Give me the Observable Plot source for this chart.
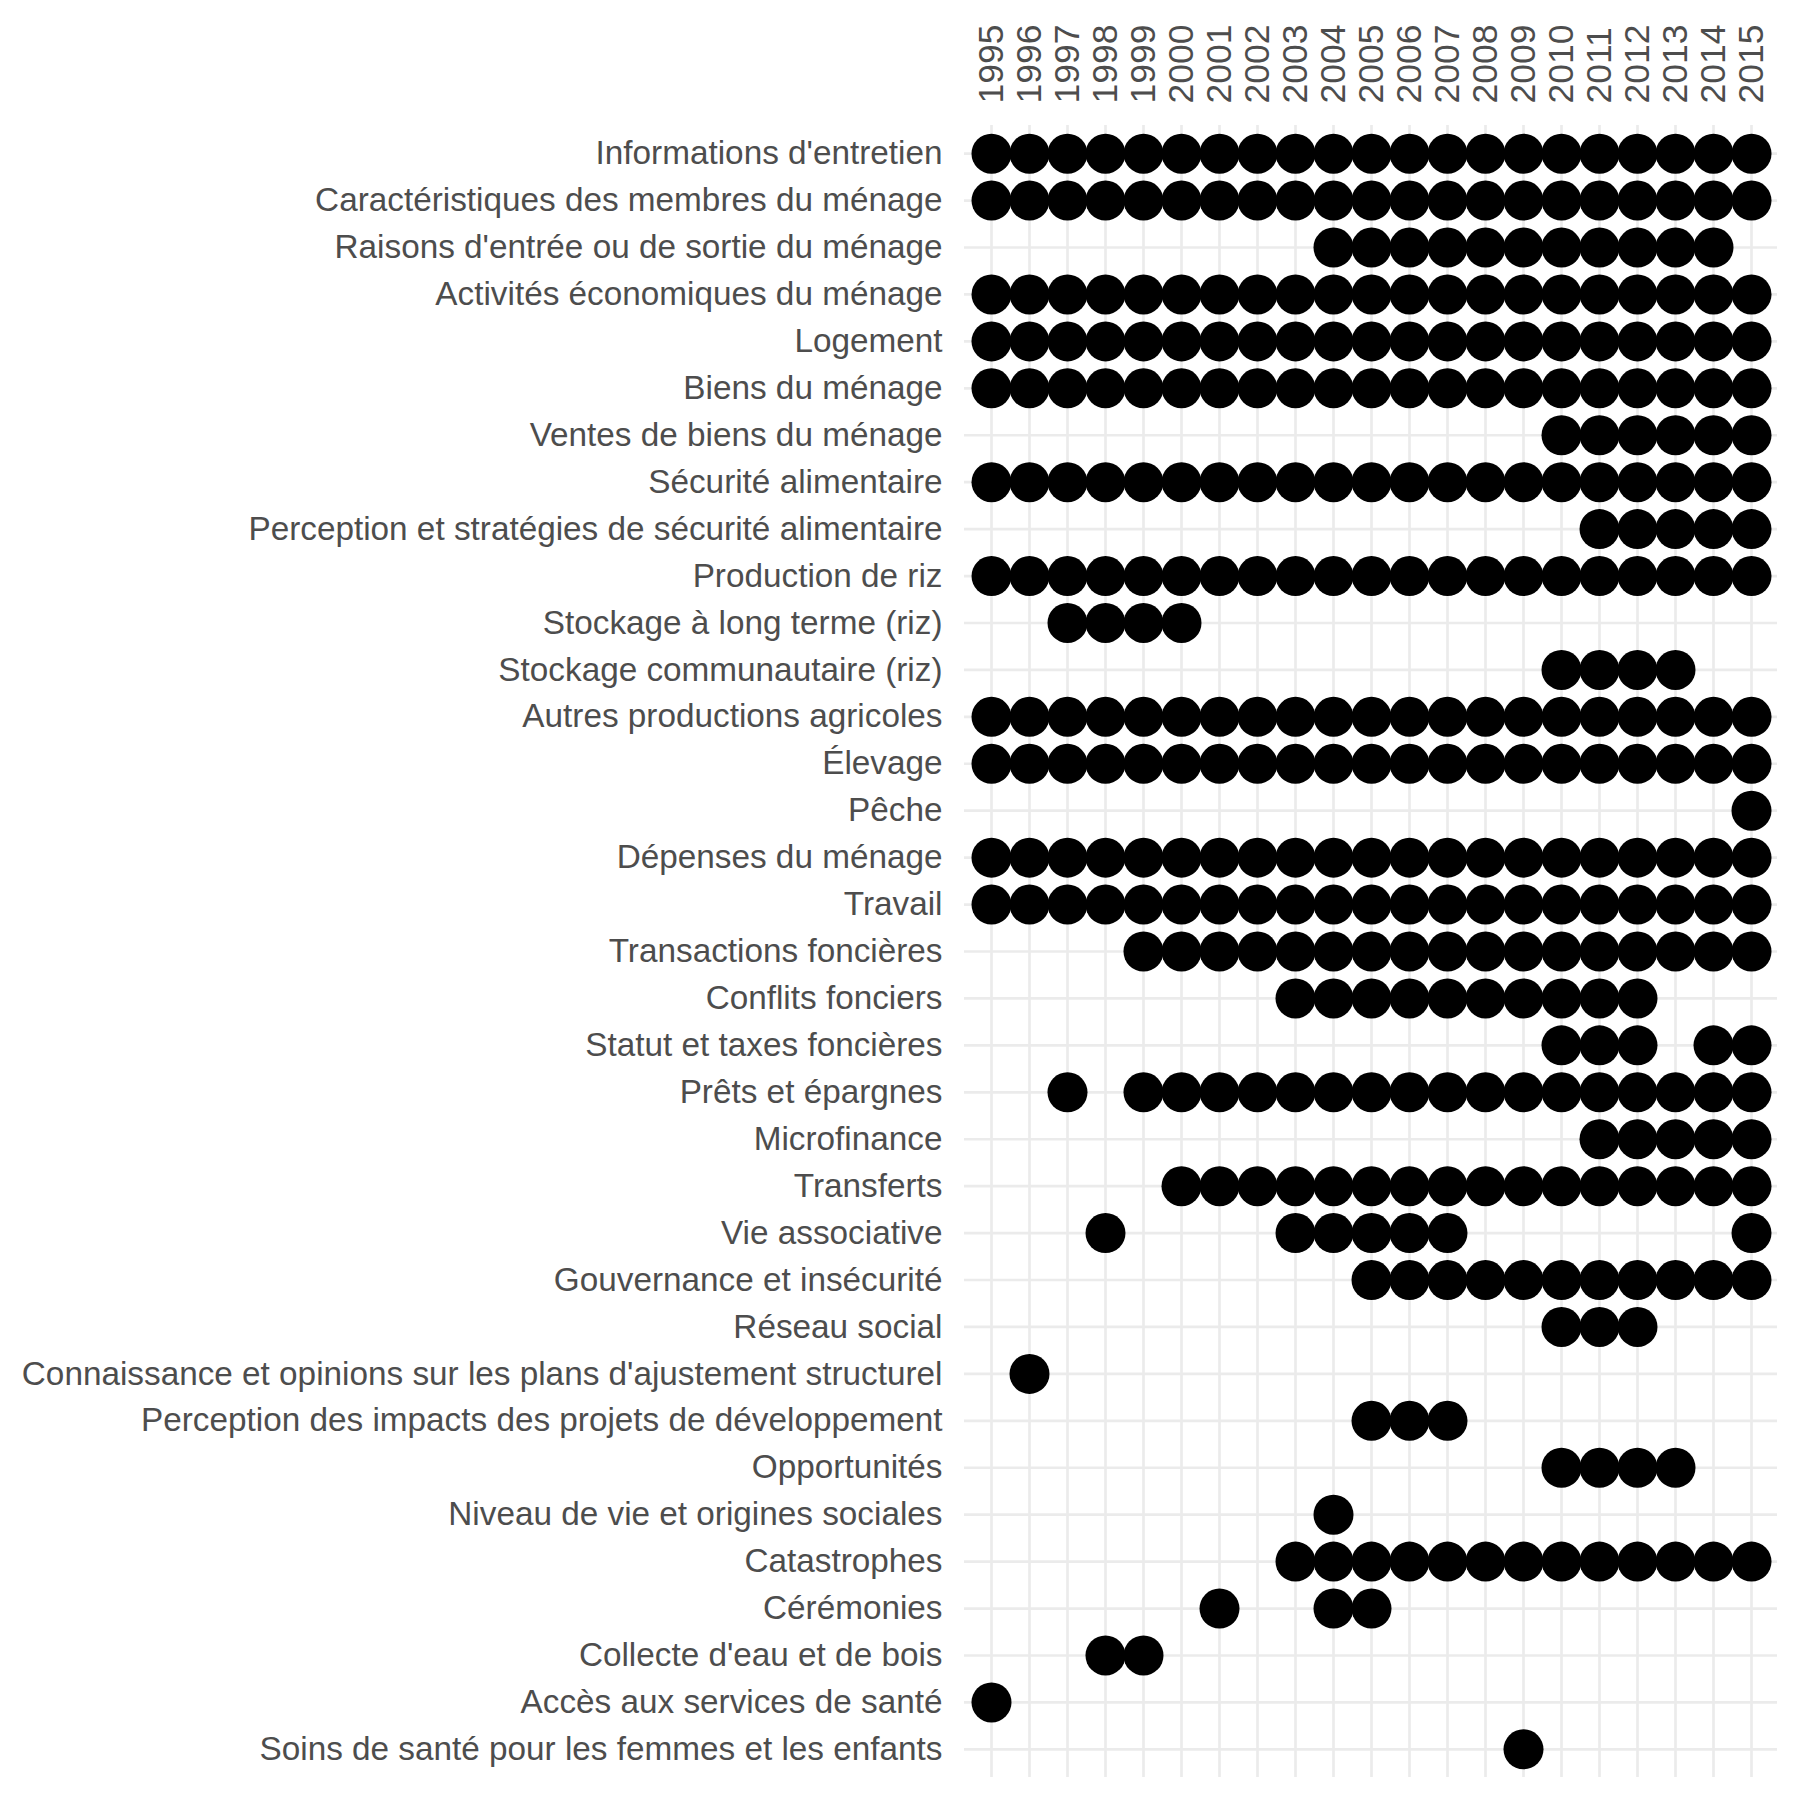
<!DOCTYPE html>
<html>
<head>
<meta charset="utf-8">
<script src="https://cdn.jsdelivr.net/npm/d3@7"></script>
<script src="https://cdn.jsdelivr.net/npm/@observablehq/plot@0.6"></script>
<style>
  html, body { margin: 0; padding: 0; background: #ffffff; }
  #chart svg { display: block; }
</style>
</head>
<body>
<div id="chart"></div>
<script>
// Survey years (columns)
const years = ["1995","1996","1997","1998","1999","2000","2001","2002","2003","2004","2005",
               "2006","2007","2008","2009","2010","2011","2012","2013","2014","2015"];

// Questionnaire modules (rows, top to bottom)
const topics = [
  "Informations d'entretien",
  "Caractéristiques des membres du ménage",
  "Raisons d'entrée ou de sortie du ménage",
  "Activités économiques du ménage",
  "Logement",
  "Biens du ménage",
  "Ventes de biens du ménage",
  "Sécurité alimentaire",
  "Perception et stratégies de sécurité alimentaire",
  "Production de riz",
  "Stockage à long terme (riz)",
  "Stockage communautaire (riz)",
  "Autres productions agricoles",
  "Élevage",
  "Pêche",
  "Dépenses du ménage",
  "Travail",
  "Transactions foncières",
  "Conflits fonciers",
  "Statut et taxes foncières",
  "Prêts et épargnes",
  "Microfinance",
  "Transferts",
  "Vie associative",
  "Gouvernance et insécurité",
  "Réseau social",
  "Connaissance et opinions sur les plans d'ajustement structurel",
  "Perception des impacts des projets de développement",
  "Opportunités",
  "Niveau de vie et origines sociales",
  "Catastrophes",
  "Cérémonies",
  "Collecte d'eau et de bois",
  "Accès aux services de santé",
  "Soins de santé pour les femmes et les enfants"
];

// Presence of each module per year: "1" = module present, "." = absent
// columns:   1995 ... 2015
const presence = [
  "111111111111111111111", // Informations d'entretien
  "111111111111111111111", // Caractéristiques des membres du ménage
  ".........11111111111.", // Raisons d'entrée ou de sortie du ménage
  "111111111111111111111", // Activités économiques du ménage
  "111111111111111111111", // Logement
  "111111111111111111111", // Biens du ménage
  "...............111111", // Ventes de biens du ménage
  "111111111111111111111", // Sécurité alimentaire
  "................11111", // Perception et stratégies de sécurité alimentaire
  "111111111111111111111", // Production de riz
  "..1111...............", // Stockage à long terme (riz)
  "...............1111..", // Stockage communautaire (riz)
  "111111111111111111111", // Autres productions agricoles
  "111111111111111111111", // Élevage
  "....................1", // Pêche
  "111111111111111111111", // Dépenses du ménage
  "111111111111111111111", // Travail
  "....11111111111111111", // Transactions foncières
  "........1111111111...", // Conflits fonciers
  "...............111.11", // Statut et taxes foncières
  "..1.11111111111111111", // Prêts et épargnes
  "................11111", // Microfinance
  ".....1111111111111111", // Transferts
  "...1....11111.......1", // Vie associative
  "..........11111111111", // Gouvernance et insécurité
  "...............111...", // Réseau social
  ".1...................", // Connaissance et opinions sur les plans d'ajustement structurel
  "..........111........", // Perception des impacts des projets de développement
  "...............1111..", // Opportunités
  ".........1...........", // Niveau de vie et origines sociales
  "........1111111111111", // Catastrophes
  "......1..11..........", // Cérémonies
  "...11................", // Collecte d'eau et de bois
  "1....................", // Accès aux services de santé
  "..............1......"  // Soins de santé pour les femmes et les enfants
];

const cells = [];
topics.forEach((topic, i) => {
  years.forEach((year, j) => {
    if (presence[i][j] === "1") cells.push({topic, year});
  });
});

const textColor = "#4d4d4d";
const gridColor = "#ebebeb";

const chart = Plot.plot({
  width: 1800,
  height: 1800,
  marginTop: 125,
  marginBottom: 23,
  marginLeft: 964,
  marginRight: 23,
  style: {
    fontFamily: "'Liberation Sans', Arial, Helvetica, sans-serif",
    background: "#ffffff"
  },
  x: {type: "point", domain: years, padding: 0.6, axis: null},
  y: {type: "point", domain: topics, padding: 0.6, axis: null},
  marks: [
    Plot.gridX({stroke: gridColor, strokeOpacity: 1, strokeWidth: 2.7}),
    Plot.gridY({stroke: gridColor, strokeOpacity: 1, strokeWidth: 2.7}),
    Plot.axisX({anchor: "top", tickRotate: -90, tickSize: 0, tickPadding: 22,
                fontSize: 35.5, color: textColor, label: null}),
    Plot.axisY({anchor: "left", tickSize: 0, tickPadding: 22,
                fontSize: 33.3, color: textColor, label: null}),
    Plot.dot(cells, {x: "year", y: "topic", r: 20, fill: "#000000", stroke: null})
  ]
});

document.getElementById("chart").appendChild(chart);
</script>
</body>
</html>
